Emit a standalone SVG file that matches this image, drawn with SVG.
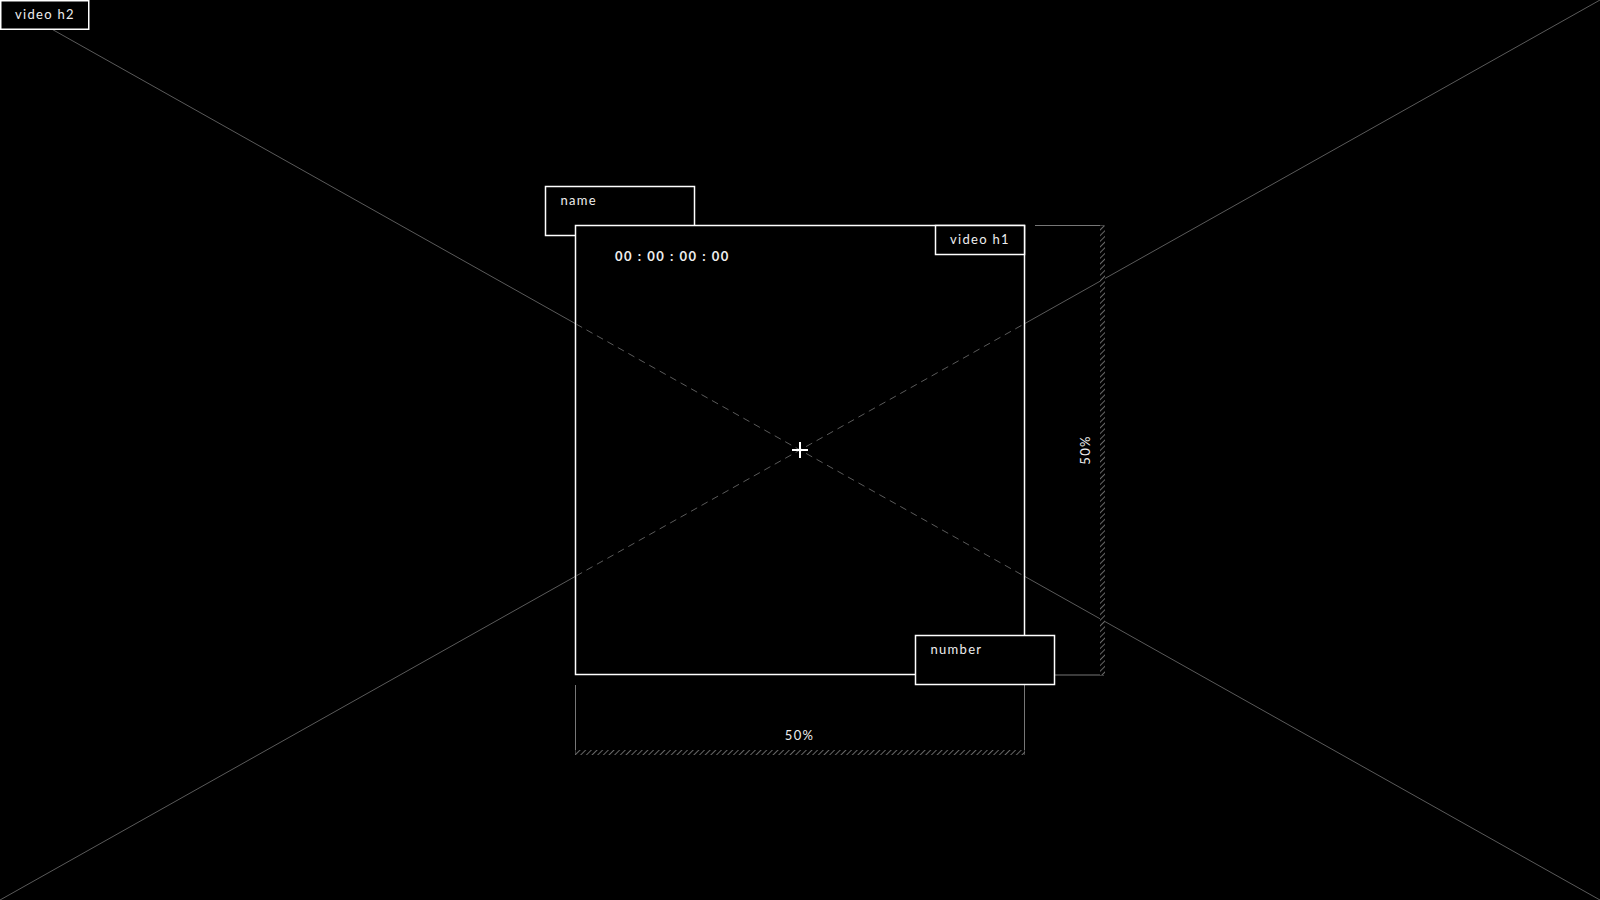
<svg xmlns="http://www.w3.org/2000/svg" width="1600" height="900" viewBox="0 0 1600 900">
<style>
.box{fill:#000;stroke:#fff;stroke-width:1.5}
.lbl{font-family:Lato,"Open Sans","Liberation Sans",sans-serif;font-size:13px;fill:#eee;letter-spacing:1.3px}
.tc{font-family:Lato,"Open Sans","Liberation Sans",sans-serif;font-size:13px;font-weight:bold;fill:#eee;letter-spacing:1.5px}
.diag{stroke:#5a5a5a;stroke-width:1;fill:none}
.dash{stroke:#5a5a5a;stroke-width:1;stroke-dasharray:7 5;fill:none}
.dim{stroke:#777;stroke-width:1;fill:none}
</style>
<defs>
<pattern id="hatch" width="4" height="4" patternUnits="userSpaceOnUse" patternTransform="rotate(45)">
<rect width="4" height="4" fill="#000"/>
<line x1="0" y1="0" x2="0" y2="4" stroke="#666" stroke-width="2"/>
</pattern>
</defs>
<rect width="1600" height="900" fill="#000"/>
<g id="connectors">
<line class="diag" x1="0" y1="0" x2="1600" y2="900"/>
<line class="diag" x1="0" y1="900" x2="1600" y2="0"/>
<line class="dim" x1="1035" y1="225.5" x2="1104" y2="225.5"/>
<line class="dim" x1="1035" y1="675" x2="1104" y2="675"/>
<rect x="1100" y="225.5" width="5" height="449.5" fill="url(#hatch)"/>
<line class="dim" x1="575.5" y1="685" x2="575.5" y2="755"/>
<line class="dim" x1="1024.5" y1="685" x2="1024.5" y2="755"/>
<rect x="575.5" y="750" width="449" height="5" fill="url(#hatch)"/>
</g>
<g id="video-h2">
<rect class="box" x="0.75" y="0.75" width="88" height="28.5"/>
<text class="lbl" x="15" y="19">video h2</text>
</g>
<g id="name">
<rect class="box" x="545.5" y="186.5" width="149" height="49"/>
<text class="lbl" x="560.5" y="205">name</text>
</g>
<g id="video-h1-frame">
<rect class="box" x="575.5" y="225.5" width="449" height="449"/>
<line class="dash" x1="576" y1="324" x2="1024" y2="576"/>
<line class="dash" x1="576" y1="576" x2="1024" y2="324"/>
</g>
<g id="crosshair">
<line x1="792" y1="450" x2="808" y2="450" stroke="#fff" stroke-width="2"/>
<line x1="800" y1="442" x2="800" y2="458" stroke="#fff" stroke-width="2"/>
</g>
<g id="timecode">
<text class="tc" x="615" y="261">00 : 00 : 00 : 00</text>
</g>
<g id="video-h1">
<rect class="box" x="935.5" y="225.5" width="89" height="29"/>
<text class="lbl" x="950" y="244">video h1</text>
</g>
<g id="number">
<rect class="box" x="915.5" y="635.5" width="139" height="49"/>
<text class="lbl" x="930.5" y="654">number</text>
</g>
<g id="dim-labels">
<text class="lbl" x="799.5" y="740" text-anchor="middle">50%</text>
<text class="lbl" transform="translate(1090 450) rotate(-90)" text-anchor="middle">50%</text>
</g>
</svg>
